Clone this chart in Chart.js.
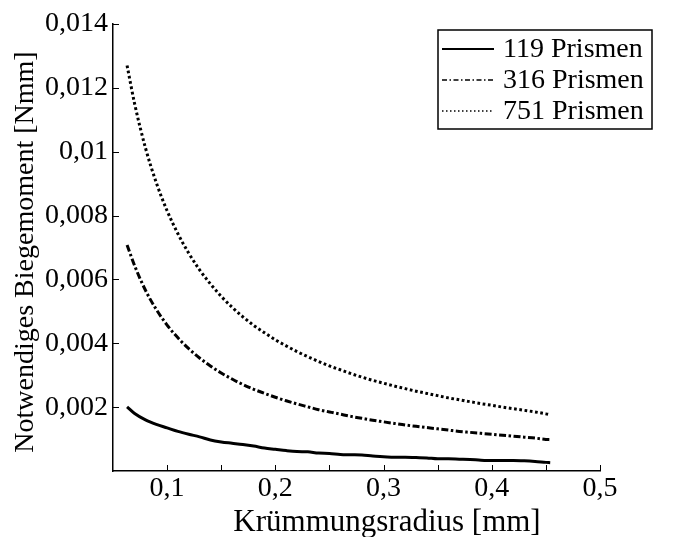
<!DOCTYPE html>
<html>
<head>
<meta charset="utf-8">
<title>Biegemoment</title>
<script src="https://cdn.jsdelivr.net/npm/chart.js@4.4.0/dist/chart.umd.min.js"></script>
<style>
  html, body { margin: 0; padding: 0; background: #fff; }
  #wrap { width: 676px; height: 537px; }
</style>
</head>
<body>
<div id="wrap"><canvas id="biegeChart" width="676" height="537"></canvas></div>
<script>
// Krümmungsradius [mm]
const radius = [
  0.063, 0.07, 0.08, 0.09, 0.10, 0.11, 0.12, 0.13, 0.14, 0.15,
  0.16, 0.17, 0.18, 0.19, 0.20, 0.21, 0.22, 0.23, 0.24, 0.25,
  0.26, 0.27, 0.28, 0.29, 0.30, 0.31, 0.32, 0.33, 0.34, 0.35,
  0.36, 0.37, 0.38, 0.39, 0.40, 0.41, 0.42, 0.43, 0.44, 0.45, 0.454
];

// Notwendiges Biegemoment [Nmm]
const prismen119 = [
  0.00201, 0.00180, 0.00160, 0.00146, 0.00135, 0.00124, 0.00115, 0.00107, 0.00097, 0.00091,
  0.00087, 0.00083, 0.00078, 0.00072, 0.00068, 0.00064, 0.00061, 0.00060, 0.00056, 0.00055,
  0.00052, 0.00051, 0.00050, 0.00047, 0.00045, 0.00043, 0.00043, 0.00042, 0.00041, 0.00038,
  0.00038, 0.00037, 0.00036, 0.00034, 0.00033, 0.00033, 0.00033, 0.00032, 0.00030, 0.00027, 0.00026
];
const prismen316 = [
  0.00708, 0.00643, 0.00566, 0.00506, 0.00457, 0.00417, 0.00383, 0.00354, 0.00329, 0.00307,
  0.00288, 0.00271, 0.00256, 0.00243, 0.00231, 0.00220, 0.00210, 0.00201, 0.00192, 0.00185,
  0.00178, 0.00171, 0.00165, 0.00159, 0.00154, 0.00149, 0.00144, 0.00140, 0.00136, 0.00132,
  0.00128, 0.00124, 0.00121, 0.00118, 0.00115, 0.00112, 0.00109, 0.00106, 0.00103, 0.00099, 0.00098
];
const prismen751 = [
  0.01270, 0.01150, 0.01012, 0.00903, 0.00815, 0.00743, 0.00682, 0.00630, 0.00586, 0.00547,
  0.00513, 0.00483, 0.00456, 0.00433, 0.00411, 0.00392, 0.00374, 0.00358, 0.00343, 0.00329,
  0.00317, 0.00305, 0.00294, 0.00284, 0.00275, 0.00266, 0.00258, 0.00250, 0.00243, 0.00236,
  0.00229, 0.00223, 0.00217, 0.00211, 0.00206, 0.00200, 0.00195, 0.00190, 0.00185, 0.00179, 0.00176
];

const seriesNames = ["119 Prismen", "316 Prismen", "751 Prismen"];
const xTitle = "Krümmungsradius [mm]";
const yTitle = "Notwendiges Biegemoment [Nmm]";

const serif = "'Liberation Serif', 'Times New Roman', serif";

function toPoints(values) {
  return values.map((v, i) => ({ x: radius[i], y: v }));
}

function komma(v) {
  return String(Number(v.toFixed(4))).replace(".", ",");
}

// legend styles (thinner than the curves, like the original)
const legendStyles = [
  { width: 2, dash: [] },
  { width: 1.4, dash: [5, 2.5, 1.5, 2.5] },
  { width: 1.4, dash: [1.5, 2.5] }
];

const extras = {
  id: "extras",
  afterDraw(chart) {
    const ctx = chart.ctx;
    const { x, y } = chart.scales;
    const area = chart.chartArea;
    ctx.save();
    ctx.fillStyle = "#000";
    ctx.strokeStyle = "#000";

    // inward tick marks
    ctx.lineWidth = 1;
    ctx.beginPath();
    x.ticks.forEach((t) => {
      if (t.value <= x.min + 1e-9) return;
      const px = Math.round(x.getPixelForValue(t.value)) + 0.5;
      ctx.moveTo(px, area.bottom);
      ctx.lineTo(px, area.bottom - 6);
    });
    y.ticks.forEach((t) => {
      if (t.value <= y.min + 1e-9) return;
      const py = Math.round(y.getPixelForValue(t.value)) + 0.5;
      ctx.moveTo(area.left, py);
      ctx.lineTo(area.left + 6, py);
    });
    ctx.stroke();

    // legend box
    ctx.lineWidth = 1.5;
    ctx.strokeRect(438, 30, 214, 99);
    ctx.font = "28px " + serif;
    ctx.textBaseline = "middle";
    ctx.textAlign = "left";
    const rows = [49, 80, 111];
    seriesNames.forEach((name, i) => {
      const st = legendStyles[i];
      ctx.lineWidth = st.width;
      ctx.setLineDash(st.dash);
      ctx.beginPath();
      ctx.moveTo(442, rows[i]);
      ctx.lineTo(494, rows[i]);
      ctx.stroke();
      ctx.setLineDash([]);
      ctx.fillText(name, 503, rows[i] + 1);
    });

    // axis titles
    ctx.textBaseline = "alphabetic";
    ctx.textAlign = "center";
    ctx.font = "31px " + serif;
    ctx.fillText(xTitle, 387, 531);
    ctx.font = "28px " + serif;
    ctx.translate(33, 252);
    ctx.rotate(-Math.PI / 2);
    ctx.fillText(yTitle, 0, 0);
    ctx.restore();
  }
};

document.addEventListener("DOMContentLoaded", () => {
  const ctx = document.getElementById("biegeChart");
  new Chart(ctx, {
    type: "line",
    data: {
      datasets: [
        {
          label: seriesNames[0],
          data: toPoints(prismen119),
          borderColor: "#000",
          borderWidth: 3,
          pointRadius: 0,
          cubicInterpolationMode: "monotone"
        },
        {
          label: seriesNames[1],
          data: toPoints(prismen316),
          borderColor: "#000",
          borderWidth: 3,
          borderDash: [7, 2.5, 2.5, 2.5],
          pointRadius: 0,
          cubicInterpolationMode: "monotone"
        },
        {
          label: seriesNames[2],
          data: toPoints(prismen751),
          borderColor: "#000",
          borderWidth: 3,
          borderDash: [2.7, 2.6],
          pointRadius: 0,
          cubicInterpolationMode: "monotone"
        }
      ]
    },
    options: {
      responsive: false,
      animation: false,
      devicePixelRatio: 1,
      layout: { padding: { top: 24, right: 76, left: 0, bottom: 0 } },
      plugins: {
        legend: { display: false },
        tooltip: { enabled: false }
      },
      scales: {
        x: {
          type: "linear",
          min: 0.05,
          max: 0.5,
          border: { display: true, color: "#000", width: 1.5 },
          grid: { drawOnChartArea: false, drawTicks: false },
          ticks: {
            stepSize: 0.05,
            padding: 1,
            color: "#000",
            font: { family: serif, size: 28 },
            maxRotation: 0,
            autoSkip: false,
            callback: (v) => (Math.round(v * 100) % 10 === 0 ? komma(v) : "")
          },
          afterFit: (scale) => { scale.height = 66; }
        },
        y: {
          type: "linear",
          min: 0,
          max: 0.014,
          border: { display: true, color: "#000", width: 1.5 },
          grid: { drawOnChartArea: false, drawTicks: false },
          ticks: {
            stepSize: 0.002,
            padding: 5,
            color: "#000",
            font: { family: serif, size: 28 },
            autoSkip: false,
            callback: (v) => (v === 0 ? "" : komma(v))
          },
          afterFit: (scale) => { scale.width = 113; }
        }
      }
    },
    plugins: [extras]
  });
});
</script>
</body>
</html>
